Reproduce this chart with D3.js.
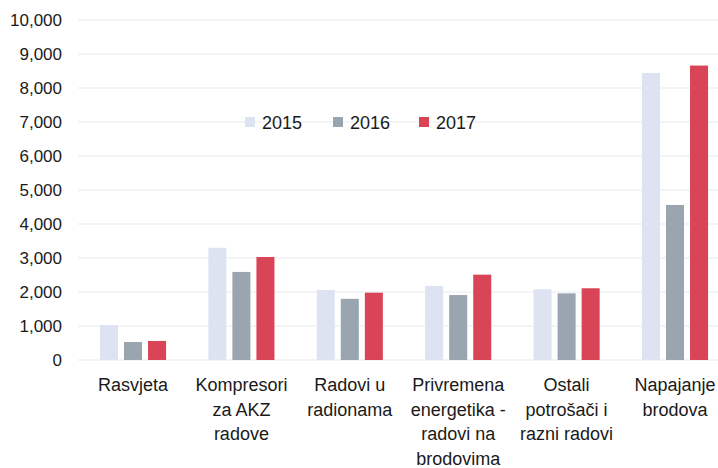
<!DOCTYPE html>
<html lang="hr">
<head>
<meta charset="UTF-8" />
<title>D3</title>
<script src="https://d3js.org/d3.v7.min.js"></script>
<style>
  body { margin: 0; background: #fff; }
  text { font-family: "Liberation Sans", Arial, sans-serif; fill: #1a1a1a; }
</style>
</head>
<body>
<div class="canvas"></div>
<script>
const categories = [
  ["Rasvjeta"],
  ["Kompresori", "za AKZ", "radove"],
  ["Radovi u", "radionama"],
  ["Privremena", "energetika -", "radovi na", "brodovima"],
  ["Ostali", "potrošači i", "razni radovi"],
  ["Napajanje", "brodova"]
];
const years = ["2015", "2016", "2017"];
const v2015 = [1030, 3300, 2060, 2180, 2080, 8440];
const v2016 = [530, 2590, 1800, 1910, 1960, 4560];
const v2017 = [560, 3030, 1980, 2510, 2110, 8660];
const yTicks = [0, 1000, 2000, 3000, 4000, 5000, 6000, 7000, 8000, 9000, 10000];
const colors = ["#dde3f1", "#9ba5af", "#d94556"];

const width = 718, height = 468;
const series = [v2015, v2016, v2017];
const names = categories.map(c => c.join(" "));

const svg = d3.select(".canvas").append("svg")
  .attr("width", width).attr("height", height);

const y = d3.scaleLinear().domain([0, 10000]).range([360, 20]);
const x0 = d3.scaleBand().domain(names).range([78.8, 729.2])
  .paddingInner(0.39).paddingOuter(0.195);
const x1 = d3.scaleBand().domain(years).range([0, x0.bandwidth()]).paddingInner(0.25);

// gridlines
svg.append("g").selectAll("line").data(yTicks).enter().append("line")
  .attr("x1", 78).attr("x2", width)
  .attr("y1", d => y(d)).attr("y2", d => y(d))
  .attr("stroke", "#e6e9ee").attr("stroke-width", 1);

// y axis
const yAxis = svg.append("g").attr("transform", "translate(70,0)")
  .call(d3.axisLeft(y).tickValues(yTicks).tickFormat(d3.format(",")).tickSize(0).tickPadding(8));
yAxis.select(".domain").remove();
yAxis.selectAll("text").style("font-size", "17px").attr("fill", "#1a1a1a");

// bars
const groups = svg.append("g").selectAll("g").data(names).enter().append("g")
  .attr("transform", d => `translate(${x0(d)},0)`);
groups.selectAll("rect")
  .data((d, i) => years.map((yr, j) => ({ yr, v: series[j][i], c: colors[j] })))
  .enter().append("rect")
  .attr("x", d => x1(d.yr))
  .attr("width", x1.bandwidth())
  .attr("y", d => y(d.v))
  .attr("height", d => y(0) - y(d.v))
  .attr("fill", d => d.c);

// category labels
const labels = svg.append("g").selectAll("text").data(categories).enter().append("text")
  .attr("x", (d, i) => x0(names[i]) + x0.bandwidth() / 2)
  .attr("y", 391)
  .attr("text-anchor", "middle")
  .style("font-size", "18px");
labels.selectAll("tspan").data(d => d).enter().append("tspan")
  .attr("x", function () { return this.parentNode.getAttribute("x"); })
  .attr("dy", (d, i) => i === 0 ? 0 : 24.5)
  .text(d => d);

// legend
const legendX = [245, 333, 419];
const legend = svg.append("g").selectAll("g").data(years).enter().append("g")
  .attr("transform", (d, i) => `translate(${legendX[i]},117)`);
legend.append("rect").attr("width", 10).attr("height", 10)
  .attr("fill", (d, i) => colors[i]);
legend.append("text").attr("x", 17).attr("y", 11.5)
  .style("font-size", "18px").text(d => d);
</script>
</body>
</html>
